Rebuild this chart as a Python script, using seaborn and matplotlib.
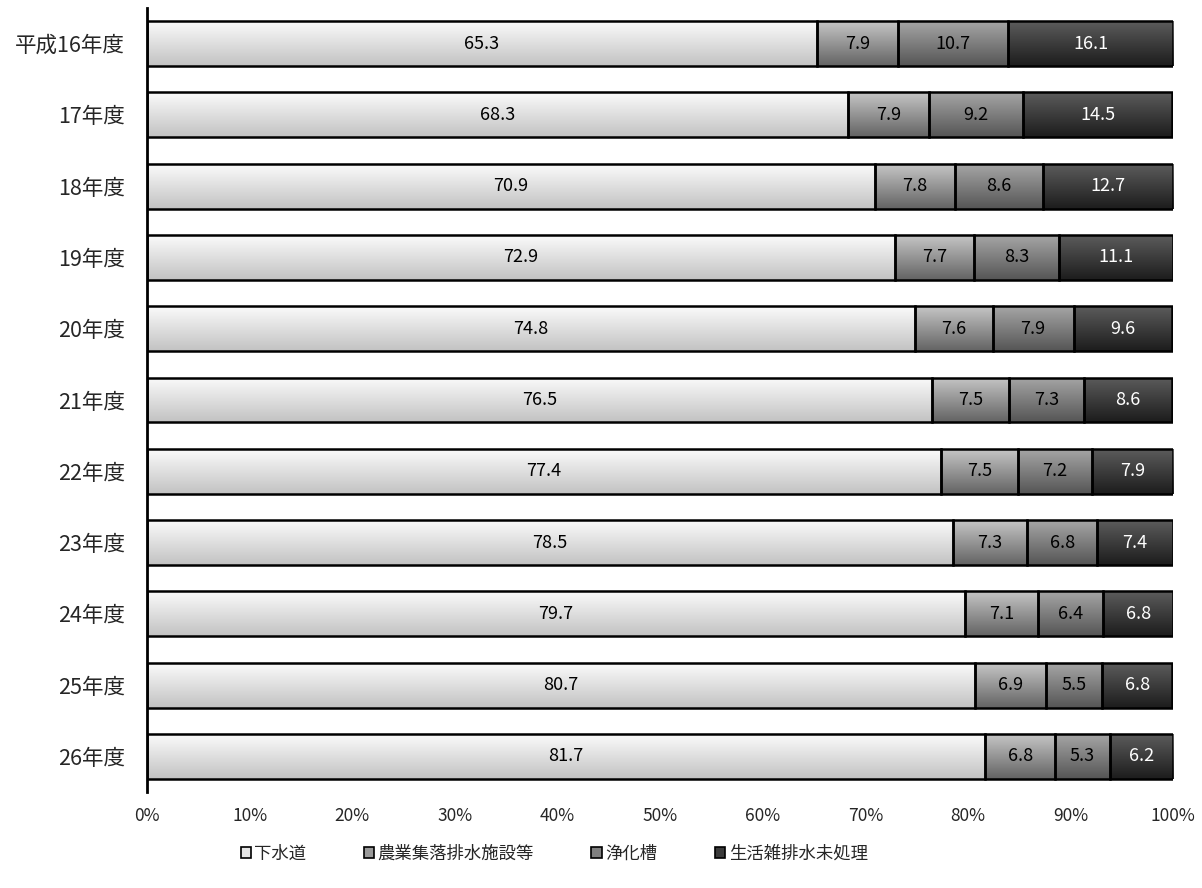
import numpy as np
import pandas as pd
import matplotlib
matplotlib.use("Agg")
import matplotlib.pyplot as plt
from matplotlib.colors import LinearSegmentedColormap
from matplotlib.patches import Patch
import seaborn as sns

years = ['平成16年度', '17年度', '18年度', '19年度', '20年度', '21年度',
         '22年度', '23年度', '24年度', '25年度', '26年度']
series = ['下水道', '農業集落排水施設等', '浄化槽', '生活雑排水未処理']
gesuido = [65.3, 68.3, 70.9, 72.9, 74.8, 76.5, 77.4, 78.5, 79.7, 80.7, 81.7]
nogyo = [7.9, 7.9, 7.8, 7.7, 7.6, 7.5, 7.5, 7.3, 7.1, 6.9, 6.8]
johkaso = [10.7, 9.2, 8.6, 8.3, 7.9, 7.3, 7.2, 6.8, 6.4, 5.5, 5.3]
misyori = [16.1, 14.5, 12.7, 11.1, 9.6, 8.6, 7.9, 7.4, 6.8, 6.8, 6.2]

# gradient top/bottom colours for each series
grads = [('#fbfbfb', '#c2c2c2'), ('#c6c6c6', '#636363'),
         ('#a6a6a6', '#555555'), ('#5c5c5c', '#1c1c1c')]
legend_cols = ['#e6e6e6', '#9a9a9a', '#808080', '#3a3a3a']
text_cols = ['black', 'black', 'black', 'white']

df = pd.DataFrame({'year': years, series[0]: gesuido, series[1]: nogyo,
                   series[2]: johkaso, series[3]: misyori})

sns.set_style('white')
plt.rcParams['font.family'] = ['Noto Sans CJK JP', 'DejaVu Sans']

fig, ax = plt.subplots(figsize=(12.02, 8.88), dpi=100)
fig.subplots_adjust(left=0.1223, right=0.976, top=0.991, bottom=0.108)

left = np.zeros(len(years))
for i, s in enumerate(series):
    n0 = len(ax.patches)
    sns.barplot(x=left + df[s].values, y=df['year'], order=years, orient='h',
                width=0.63, color='white', ax=ax)
    patches = ax.patches[n0:]
    cmap = LinearSegmentedColormap.from_list('g%d' % i, list(grads[i]))
    grad = np.linspace(0, 1, 256).reshape(-1, 1)
    for p, l, v in zip(patches, left, df[s].values):
        # turn the cumulative bar into its own segment
        p.set_x(l)
        p.set_width(v)
        p.set_facecolor('none')
        p.set_edgecolor('black')
        p.set_linewidth(1.8)
        p.set_zorder(3)
        y0, h = p.get_y(), p.get_height()
        im = ax.imshow(grad, extent=(l, l + v, y0 + h, y0), aspect='auto',
                       cmap=cmap, zorder=2, interpolation='bilinear')
        im.set_clip_path(p)
        ax.text(l + v / 2, y0 + h / 2, f'{v:.1f}', ha='center', va='center',
                fontsize=13, color=text_cols[i], zorder=4)
    left = left + df[s].values

ax.set_xlim(0, 100)
ax.set_ylim(len(years) - 0.5, -0.5)
ax.set_xticks(range(0, 101, 10))
ax.set_xticklabels([f'{v}%' for v in range(0, 101, 10)], fontsize=12.5)
ax.tick_params(axis='x', length=0, pad=11)
ax.tick_params(axis='y', length=0, pad=16, labelsize=15.5)
ax.set_xlabel('')
ax.set_ylabel('')
for sp in ['top', 'right', 'bottom']:
    ax.spines[sp].set_visible(False)
ax.spines['left'].set_linewidth(2)
ax.spines['left'].set_color('black')

handles = [Patch(facecolor=c, edgecolor='black', linewidth=1.2) for c in legend_cols]
fig.legend(handles, series, loc='center', bbox_to_anchor=(0.461, 0.039),
           ncol=4, frameon=False, fontsize=12.5, handlelength=0.6,
           handleheight=0.6, handletextpad=0.2, columnspacing=3.3)

fig.savefig('out.png', dpi=100)
